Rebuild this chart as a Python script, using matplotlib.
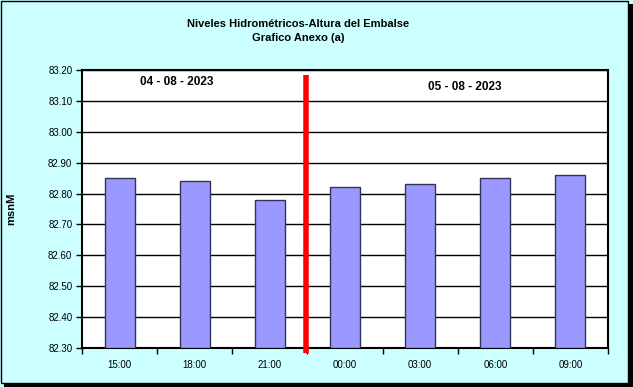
import matplotlib.pyplot as plt
import matplotlib.patches as patches
import numpy as np

horas = ["15:00", "18:00", "21:00", "00:00", "03:00", "06:00", "09:00"]
niveles = [82.85, 82.84, 82.78, 82.82, 82.83, 82.85, 82.86]
y_ticks = [82.30, 82.40, 82.50, 82.60, 82.70, 82.80, 82.90, 83.00, 83.10, 83.20]
fechas = ["04 - 08 - 2023", "05 - 08 - 2023"]

plt.rcParams["font.family"] = ["Liberation Sans", "DejaVu Sans"]

fig = plt.figure(figsize=(6.33, 3.87), dpi=100)
fig.patch.set_facecolor("#CCFFFF")

# marco con sombra
fig.patches.append(patches.Rectangle((4 / 633, 0), 629 / 633, 383 / 387, transform=fig.transFigure,
                                     facecolor="black", edgecolor="none", zorder=-2))
fig.patches.append(patches.Rectangle((1 / 633, 4 / 387), 627 / 633, 382 / 387, transform=fig.transFigure,
                                     facecolor="#CCFFFF", edgecolor="black", linewidth=1, zorder=-1))

ax = fig.add_axes([82 / 633, 1 - 348 / 387, 526 / 633, 278 / 387])
x = np.arange(len(horas))
ax.bar(x, np.array(niveles) - 82.30, bottom=82.30, width=0.4,
       color="#9999FF", edgecolor="#333355", linewidth=1, zorder=3)

ax.set_xlim(-0.5, len(horas) - 0.5)
ax.set_ylim(82.30, 83.20)
ax.set_yticks(y_ticks)
ax.set_yticklabels([f"{v:.2f}" for v in y_ticks], fontsize=7)
ax.set_xticks(x)
ax.set_xticklabels(horas, fontsize=7)
ax.set_xticks(np.arange(-0.5, len(horas)), minor=True)
ax.tick_params(axis="x", which="major", length=0, pad=9)
ax.tick_params(axis="x", which="minor", length=4, width=1, direction="out")
ax.tick_params(axis="y", length=4, width=1, direction="out", pad=3)
ax.grid(axis="y", color="black", linewidth=1, zorder=1)
for s in ax.spines.values():
    s.set_linewidth(1.5)
    s.set_color("black")

# separador de dias
ax.plot([2.48, 2.48], [82.285, 83.185], color="red", linewidth=4, zorder=4, clip_on=False,
        solid_capstyle="butt")

ax.text(0.76, 83.16, fechas[0], fontsize=8.5, fontweight="bold", ha="center", va="center", zorder=5)
ax.text(4.6, 83.145, fechas[1], fontsize=8.5, fontweight="bold", ha="center", va="center", zorder=5)

ax.set_ylabel("msnM", fontsize=8, fontweight="bold")
ax.yaxis.set_label_coords(-66 / 526, 0.5)

fig.text(0.471, 1 - 24 / 387, "Niveles Hidrométricos-Altura del Embalse", fontsize=8,
         fontweight="bold", ha="center", va="center")
fig.text(0.471, 1 - 38 / 387, "Grafico Anexo (a)", fontsize=8,
         fontweight="bold", ha="center", va="center")

plt.savefig("out.png", dpi=100, facecolor=fig.get_facecolor())
